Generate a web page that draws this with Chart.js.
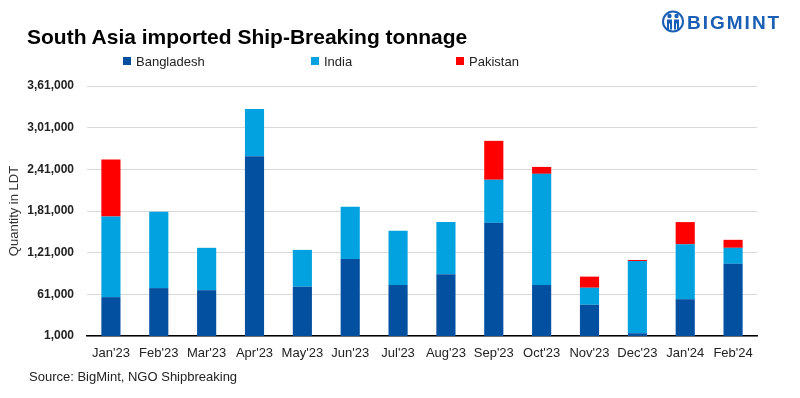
<!DOCTYPE html>
<html>
<head>
<meta charset="utf-8">
<script src="https://cdn.jsdelivr.net/npm/chart.js@4.4.1/dist/chart.umd.min.js"></script>
<style>
  body { margin: 0; background: #fff; }
  #wrap { position: relative; width: 800px; height: 398px; overflow: hidden; font-family: "Liberation Sans Narrow", "Liberation Sans", Arial, sans-serif; }
  #chart { position: absolute; left: 0; top: 0; }
  .title { position: absolute; left: 27px; top: 25px; font-size: 21px; font-weight: bold; color: #000; white-space: nowrap; }
  .legend { position: absolute; top: 54px; font-size: 13px; color: #222; white-space: nowrap; }
  .legend span.box { display: inline-block; width: 8px; height: 8px; margin-right: 5px; vertical-align: 1px; }
  .source { position: absolute; left: 29px; top: 369px; font-size: 13px; color: #222; white-space: nowrap; }
  .logo { position: absolute; left: 662px; top: 9px; color: #1a5fb4; font-family: "Liberation Sans", Arial, sans-serif; font-weight: bold; font-size: 19px; letter-spacing: 2px; white-space: nowrap; }
  .logo svg { vertical-align: -5px; margin-right: 3px; }
</style>
</head>
<body>
<div id="wrap">
  <canvas id="chart" width="800" height="398"></canvas>
  <div class="title">South Asia imported Ship-Breaking tonnage</div>
  <div class="legend" style="left:123px"><span class="box" style="background:#0350a1"></span>Bangladesh</div>
  <div class="legend" style="left:311px"><span class="box" style="background:#02a2e0"></span>India</div>
  <div class="legend" style="left:456px"><span class="box" style="background:#ff0000"></span>Pakistan</div>
  <div class="logo"><svg width="22" height="25" viewBox="0 0 22 24"><circle cx="11" cy="12" r="10" fill="none" stroke="#1a5fb4" stroke-width="2"/><circle cx="7.5" cy="6.5" r="2.2" fill="#1a5fb4"/><circle cx="14.5" cy="6.5" r="2.2" fill="#1a5fb4"/><path d="M5 10 h5 v10 h-2 v-6 h-1 v6 h-2z M12 10 h5 v10 h-2 v-6 h-1 v6 h-2z" fill="#1a5fb4"/></svg>BIGMINT</div>
  <div class="source">Source: BigMint, NGO Shipbreaking</div>
</div>
<script>
const months = ["Jan'23", "Feb'23", "Mar'23", "Apr'23", "May'23", "Jun'23", "Jul'23",
  "Aug'23", "Sep'23", "Oct'23", "Nov'23", "Dec'23", "Jan'24", "Feb'24"];
const bangladesh = [57000, 70000, 67000, 260000, 72000, 112000, 74500, 90000, 164000, 74500, 46000, 5000, 54000, 105000];
const india = [116000, 110000, 61000, 68000, 53000, 75000, 78000, 75000, 62000, 160000, 24500, 104000, 79000, 23000];
const pakistan = [82000, 0, 0, 0, 0, 0, 0, 0, 56000, 10000, 16000, 1500, 32000, 11500];

// y ticks in the Indian grouping style: 3,61,000
function indianFormat(n) {
  const s = String(Math.round(n));
  if (s.length <= 3) return s;
  const last3 = s.slice(-3);
  let rest = s.slice(0, -3);
  const parts = [];
  while (rest.length > 2) {
    parts.unshift(rest.slice(-2));
    rest = rest.slice(0, -2);
  }
  if (rest) parts.unshift(rest);
  return parts.join(",") + "," + last3;
}

const ctx = document.getElementById("chart").getContext("2d");
new Chart(ctx, {
  type: "bar",
  data: {
    labels: months,
    datasets: [
      { label: "Bangladesh", data: bangladesh, backgroundColor: "#0350a1" },
      { label: "India", data: india, backgroundColor: "#02a2e0" },
      { label: "Pakistan", data: pakistan, backgroundColor: "#ff0000" },
    ],
  },
  options: {
    responsive: false,
    animation: false,
    layout: { padding: { top: 86, right: 43, bottom: 0, left: 0 } },
    datasets: { bar: { categoryPercentage: 0.8, barPercentage: 0.5 } },
    plugins: {
      legend: { display: false },
      tooltip: { enabled: false },
    },
    scales: {
      x: {
        stacked: true,
        grid: { display: false, drawTicks: false },
        border: { display: true, color: "#000", width: 1.5 },
        ticks: {
          padding: 10,
          color: "#222",
          maxRotation: 0,
          autoSkip: false,
          font: { family: "'Liberation Sans Narrow', 'Liberation Sans', Arial", size: 13 },
        },
        afterFit: (scale) => { scale.height = 62; },
      },
      y: {
        stacked: true,
        min: 1000,
        max: 361000,
        grid: { color: "#d9d9d9", lineWidth: 1, drawTicks: false },
        border: { display: false },
        ticks: {
          stepSize: 60000,
          padding: 13,
          color: "#222",
          font: { family: "'Liberation Sans', Arial", size: 12, weight: "bold" },
          callback: (v) => indianFormat(v),
        },
        title: {
          display: true,
          text: "Quantity in LDT",
          color: "#333",
          padding: { top: 7, bottom: 0 },
          font: { family: "'Liberation Sans', Arial", size: 13 },
        },
        afterFit: (scale) => { scale.width = 87; },
      },
    },
  },
});
</script>
</body>
</html>
